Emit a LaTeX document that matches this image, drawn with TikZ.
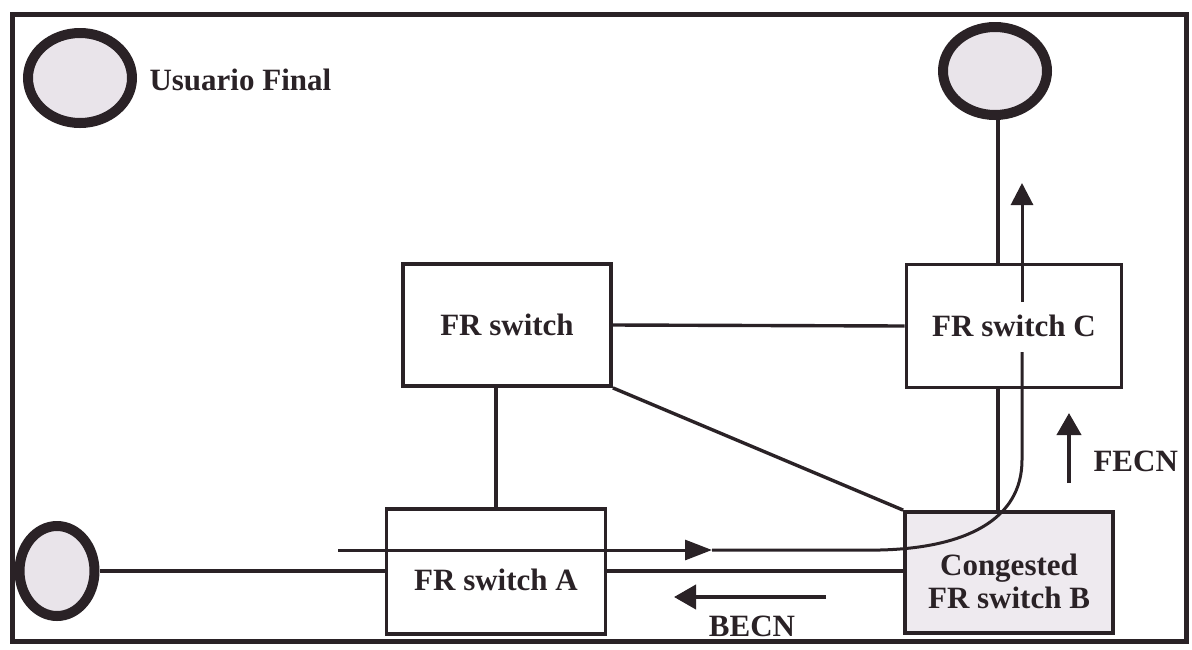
\documentclass[tikz,border=0pt]{standalone}
\usepackage{fontspec}
\setmainfont{Liberation Serif}
\usetikzlibrary{shapes.geometric,arrows.meta,positioning,calc}
\definecolor{INK}{HTML}{2A2226}
\definecolor{DOT}{HTML}{E9E4EA}
\definecolor{HOT}{HTML}{EEEAEF}

\begin{document}
\begin{tikzpicture}[x=1pt, y=-1pt,
    font=\fontsize{31}{33}\selectfont\bfseries\color{INK},
    frsw/.style={draw=INK, line width=3.8pt, align=center, inner sep=0pt},
    enduser/.style={ellipse, draw=INK, line width=10pt, fill=DOT, inner sep=0pt},
    lnk/.style={draw=INK, line width=3.4pt},
    flow/.style={draw=INK, line width=3pt},
    notif/.style={draw=INK, line width=4pt, -{Triangle[length=22pt,width=24pt]}}]
  \useasboundingbox (0,0) rectangle (1192,649);
  \draw[INK, line width=5pt] (12.5,14.5) rectangle (1186,641);

  % end users
  \node[enduser, minimum width=104pt, minimum height=90pt] (uLeg) at (80,78) {};
  \node[anchor=west] (leg) at (146,80) {Usuario Final};
  \node[enduser, minimum width=104pt, minimum height=88pt] (uC) at (995,71) {};
  \node[enduser, minimum width=75pt, minimum height=90pt] (uA) at (57,571) {};

  % switches
  \node[frsw, minimum width=208pt, minimum height=122pt] (sw) at (507,325) {FR switch};
  \node[frsw, minimum width=215pt, minimum height=123pt] (swC) at (1014,326) {FR switch C};
  \node[frsw, minimum width=219pt, text height=81pt, text depth=44pt] (swA) at (496,571.5) {FR switch A};
  \node[frsw, fill=HOT, minimum width=208pt, text height=96pt, text depth=25pt] (swB) at (1009,572.5) {Congested\\FR switch B};

  % links
  \draw[lnk] (sw.east) -- (swC.west);
  \draw[lnk] (swA.north) -- (swA.north |- sw.south);
  \draw[lnk] (sw.south east) -- (swB.north west);
  \draw[lnk] ($(uC.south)+(3,0)$) -- ($(uC.south |- swC.north)+(3,0)$);
  \draw[lnk] ($(uC.south |- swC.south)+(3,0)$) -- ($(uC.south |- swB.north)+(3,0)$);
  \draw[lnk] (uA.east) -- (uA.east -| swA.west);
  \draw[lnk] (swA.east |- uA.east) -- (swB.west |- uA.east);

  % path of the frames
  \coordinate (fIn) at (338,550);
  \coordinate (fTip) at (712,550);
  \coordinate (fBend) at (880,550);
  \coordinate (fGapLo) at (1022,352);
  \coordinate (fGapHi) at (1022,302);
  \coordinate (fOut) at (1022,183);
  \draw[flow, -{Triangle[length=27pt,width=20pt]}] (fIn) -- (fTip);
  \draw[flow] (fTip) -- (fBend) .. controls (965,548) and (1022,520) .. (1022,460) -- (fGapLo);
  \draw[flow, -{Triangle[length=22pt,width=22pt]}] (fGapHi) -- (fOut);

  % congestion notifications
  \coordinate (fecnA) at (1069,483);
  \coordinate (fecnB) at (1069,413);
  \draw[notif] (fecnA) -- (fecnB);
  \node[anchor=west] (fecn) at (1090,461) {FECN};
  \coordinate (becnA) at (826,597);
  \coordinate (becnB) at (674,597);
  \draw[notif] (becnA) -- (becnB);
  \node (becn) at (752,626) {BECN};
\end{tikzpicture}
\end{document}
